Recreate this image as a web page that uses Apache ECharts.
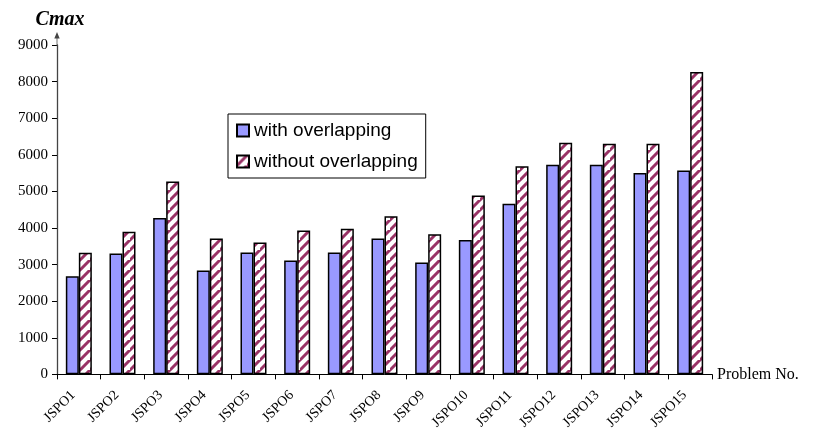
<!DOCTYPE html>
<html>
<head>
<meta charset="utf-8">
<script src="https://cdn.jsdelivr.net/npm/echarts@6/dist/echarts.min.js"></script>
<style>
  html, body { margin: 0; padding: 0; background: #fff; }
  #chart { width: 823px; height: 432px; }
</style>
</head>
<body>
<div id="chart"></div>
<script>
const problems = ['JSPO1', 'JSPO2', 'JSPO3', 'JSPO4', 'JSPO5', 'JSPO6', 'JSPO7', 'JSPO8',
  'JSPO9', 'JSPO10', 'JSPO11', 'JSPO12', 'JSPO13', 'JSPO14', 'JSPO15']
const withOverlap = [2680, 3300, 4270, 2840, 3330, 3110, 3330, 3710, 3060, 3670, 4660, 5730, 5730, 5500, 5570]
const withoutOverlap = [3320, 3900, 5270, 3710, 3600, 3930, 3980, 4320, 3830, 4890, 5690, 6330, 6300, 6300, 8260]
const yTicks = [0, 1000, 2000, 3000, 4000, 5000, 6000, 7000, 8000, 9000]

// diagonal hatch tile
function hatch() {
  const s = 10
  const c = document.createElement('canvas')
  c.width = s
  c.height = s
  const ctx = c.getContext('2d')
  ctx.fillStyle = '#fff'
  ctx.fillRect(0, 0, s, s)
  ctx.strokeStyle = '#993366'
  ctx.lineWidth = 3
  ctx.beginPath()
  ctx.moveTo(-2, s + 2); ctx.lineTo(s + 2, -2)
  ctx.moveTo(-2 - s, s + 2); ctx.lineTo(2, -2)
  ctx.moveTo(s - 2, 2 * s + 2); ctx.lineTo(2 * s + 2, s - 2)
  ctx.stroke()
  return c
}

const chart = echarts.init(document.getElementById('chart'))
const serif = '"Liberation Serif", "Times New Roman", serif'

chart.setOption({
  animation: false,
  grid: { left: 57, right: 111, top: 45, bottom: 57 },
  legend: {
    orient: 'vertical',
    left: 228,
    top: 114,
    padding: [7, 8, 7, 8],
    itemGap: 12,
    itemWidth: 12,
    itemHeight: 12,
    borderColor: '#000',
    borderWidth: 1,
    backgroundColor: '#fff',
    textStyle: { fontFamily: '"Liberation Sans", Arial, sans-serif', fontSize: 19, color: '#000' },
    data: [
      { name: 'with overlapping', icon: 'rect' },
      { name: 'without overlapping', icon: 'rect' }
    ]
  },
  xAxis: {
    type: 'category',
    data: problems,
    name: 'Problem No.',
    nameLocation: 'end',
    nameGap: 5,
    nameTextStyle: { fontFamily: serif, fontSize: 16, color: '#000' },
    axisLine: { lineStyle: { color: '#000', width: 1 } },
    axisTick: { show: true, length: 5, lineStyle: { color: '#000' } },
    axisLabel: {
      rotate: 45,
      interval: 0,
      margin: 13,
      padding: [0, 8, 0, 0],
      fontFamily: serif,
      fontSize: 14,
      color: '#000'
    }
  },
  yAxis: {
    type: 'value',
    min: 0,
    max: 9000,
    interval: 1000,
    name: 'Cmax',
    nameLocation: 'end',
    nameGap: 15,
    nameTextStyle: { fontFamily: serif, fontSize: 20, fontWeight: 'bold', fontStyle: 'italic', color: '#000', padding: [0, 0, 0, 6] },
    axisLine: {
      show: true,
      lineStyle: { color: '#444', width: 1.3 },
      symbol: ['none', 'path://M5,0 L10,12 L5.7,12 L5.7,26 L4.3,26 L4.3,12 L0,12 Z'],
      symbolSize: [7, 14],
      symbolOffset: [0, 6]
    },
    axisTick: { show: true, length: 5, lineStyle: { color: '#000' } },
    splitLine: { show: false },
    axisLabel: {
      margin: 9,
      fontFamily: serif,
      fontSize: 15,
      color: '#000',
      formatter: v => (yTicks.includes(v) ? String(v) : '')
    }
  },
  series: [
    {
      name: 'with overlapping',
      type: 'bar',
      data: withOverlap,
      barWidth: 13,
      barGap: '0%',
      itemStyle: { color: '#9999FF', borderColor: '#000', borderWidth: 1.5 }
    },
    {
      name: 'without overlapping',
      type: 'bar',
      data: withoutOverlap,
      barWidth: 13,
      barGap: '0%',
      itemStyle: { color: { image: hatch(), repeat: 'repeat' }, borderColor: '#000', borderWidth: 1.5 }
    }
  ]
})
</script>
</body>
</html>
